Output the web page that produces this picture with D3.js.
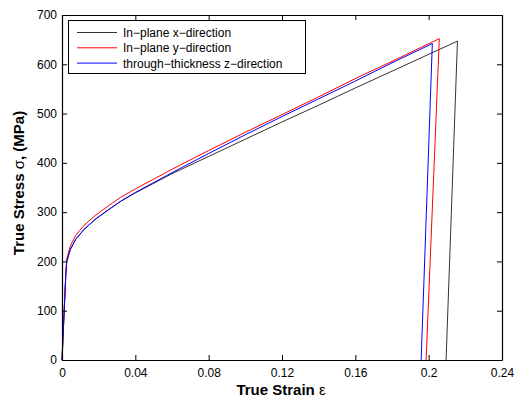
<!DOCTYPE html>
<html>
<head>
<meta charset="utf-8">
<script src="https://cdn.jsdelivr.net/npm/d3@7"></script>
<style>
  html, body { margin: 0; padding: 0; background: #fff; }
  svg text { font-family: "Liberation Sans", Arial, Helvetica, sans-serif; }
</style>
</head>
<body>
<svg id="chart" width="514" height="400"></svg>
<script>
// True stress–strain curves in three directions (strain, MPa)
const strainX = [0, 0.0021, 0.0026, 0.0045, 0.0075, 0.012, 0.018, 0.025, 0.032, 0.04, 0.06, 0.08, 0.10, 0.12, 0.14, 0.16, 0.18, 0.2157, 0.2095];
const stressX = [0, 175, 200, 224, 245, 265, 285, 304, 322, 339, 378, 413, 448, 483, 517, 552, 586, 647, 0];

const strainY = [0, 0.0021, 0.0026, 0.0045, 0.0075, 0.012, 0.018, 0.025, 0.032, 0.04, 0.06, 0.08, 0.10, 0.12, 0.14, 0.16, 0.18, 0.2058, 0.1986];
const stressY = [0, 178, 205, 231, 253, 273, 293, 312, 330, 347, 387, 425, 462, 498, 534, 571, 606, 652, 0];

const strainZ = [0, 0.0021, 0.0026, 0.0045, 0.0075, 0.012, 0.018, 0.025, 0.032, 0.04, 0.06, 0.08, 0.10, 0.12, 0.14, 0.16, 0.18, 0.2020, 0.1959];
const stressZ = [0, 175, 200, 224, 245, 265, 285, 304, 322, 340, 380, 419, 457, 494, 530, 566, 603, 642, 0];

const seriesNames = ["In\u2212plane x\u2212direction", "In\u2212plane y\u2212direction", "through\u2212thickness z\u2212direction"];
const seriesColors = ["#333333", "#ff0000", "#0000ff"];

const xTicks = [0, 0.04, 0.08, 0.12, 0.16, 0.2, 0.24];
const yTicks = [0, 100, 200, 300, 400, 500, 600, 700];

const svg = d3.select("#chart");
const plotL = 62, plotR = 502, plotT = 15, plotB = 360;

const x = d3.scaleLinear().domain([0, 0.24]).range([plotL, plotR]);
const y = d3.scaleLinear().domain([0, 700]).range([plotB, plotT]);

const series = [
  strainX.map((e, i) => [e, stressX[i]]),
  strainY.map((e, i) => [e, stressY[i]]),
  strainZ.map((e, i) => [e, stressZ[i]])
];

// curves
const line = d3.line().x(d => x(d[0])).y(d => y(d[1]));
series.forEach((s, i) => {
  svg.append("path")
    .datum(s)
    .attr("d", line)
    .attr("fill", "none")
    .attr("stroke", seriesColors[i])
    .attr("stroke-width", 1)
    .attr("stroke-linejoin", "miter");
});

// axes with inward ticks on all four sides
const tickLen = 5;
const fmtX = d => d === 0 ? "0" : String(+d.toFixed(2));
const axB = svg.append("g").attr("transform", `translate(0,${plotB})`)
  .call(d3.axisBottom(x).tickValues(xTicks).tickSizeInner(-tickLen).tickSizeOuter(0).tickPadding(8).tickFormat(fmtX));
const axT = svg.append("g").attr("transform", `translate(0,${plotT})`)
  .call(d3.axisTop(x).tickValues(xTicks).tickSizeInner(-tickLen).tickSizeOuter(0).tickFormat(""));
const axL = svg.append("g").attr("transform", `translate(${plotL},0)`)
  .call(d3.axisLeft(y).tickValues(yTicks).tickSizeInner(-tickLen).tickSizeOuter(0).tickPadding(5));
const axR = svg.append("g").attr("transform", `translate(${plotR},0)`)
  .call(d3.axisRight(y).tickValues(yTicks).tickSizeInner(-tickLen).tickSizeOuter(0).tickFormat(""));

[axB, axT, axL, axR].forEach(g => {
  g.select(".domain").attr("stroke", "#000").attr("stroke-width", 1.2);
  g.selectAll(".tick line").attr("stroke", "#000");
  g.selectAll(".tick text").attr("font-size", 12).attr("fill", "#000")
    .style("font-family", "'Liberation Sans', Arial, sans-serif");
});

// axis titles
svg.append("text")
  .attr("x", 281).attr("y", 395)
  .attr("text-anchor", "middle").attr("font-size", 15).attr("font-weight", "bold")
  .text("True Strain ")
  .append("tspan").attr("font-weight", "normal").text("\u03b5");

const yt = svg.append("text")
  .attr("transform", `translate(24,183) rotate(-90)`)
  .attr("text-anchor", "middle").attr("font-size", 15).attr("font-weight", "bold");
yt.append("tspan").text("True Stress ");
yt.append("tspan").attr("font-weight", "normal").text("\u03c3");
yt.append("tspan").text(", (MPa)");

// legend
const lg = svg.append("g");
lg.append("rect")
  .attr("x", 68.5).attr("y", 20.5).attr("width", 237).attr("height", 53)
  .attr("fill", "#fff").attr("stroke", "#000").attr("stroke-width", 1);
seriesNames.forEach((name, i) => {
  const yy = 32.5 + i * 15.3;
  lg.append("line")
    .attr("x1", 77).attr("x2", 117)
    .attr("y1", yy).attr("y2", yy)
    .attr("stroke", seriesColors[i]).attr("stroke-width", 1);
  lg.append("text")
    .attr("x", 123).attr("y", yy + 4.5)
    .attr("font-size", 12).attr("fill", "#000")
    .text(name);
});
</script>
</body>
</html>
